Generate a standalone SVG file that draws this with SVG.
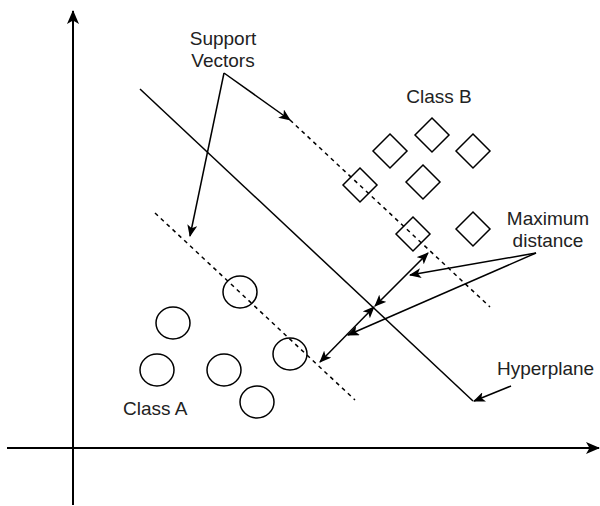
<svg xmlns="http://www.w3.org/2000/svg" width="600" height="506" viewBox="0 0 600 506">
<style>
.ln{stroke:#000;stroke-width:1.5;fill:none}
.ax{stroke:#000;stroke-width:2;fill:none}
.dash{stroke:#000;stroke-width:1.5;fill:none;stroke-dasharray:4 4}
.sv{fill:none;stroke:#000;stroke-width:1.5}
text{font-family:"Liberation Sans",Arial,sans-serif;font-size:19px;fill:#222}
</style>
<defs>
<marker id="ah" viewBox="0 0 12 10" refX="11" refY="5" markerWidth="12" markerHeight="10" markerUnits="userSpaceOnUse" orient="auto-start-reverse">
<path d="M0,0 L12,5 L0,10 L3,5 z" fill="#000"/>
</marker>
<marker id="ahb" viewBox="0 0 14 12" refX="13" refY="6" markerWidth="14" markerHeight="12" markerUnits="userSpaceOnUse" orient="auto">
<path d="M0,0 L14,6 L0,12 L3.5,6 z" fill="#000"/>
</marker>
</defs>
<g id="axes">
<line class="ax" x1="73" y1="505" x2="73" y2="11" marker-end="url(#ahb)"/>
<line class="ax" x1="7" y1="448" x2="599" y2="448" marker-end="url(#ahb)"/>
</g>
<g id="hyperplane"><line class="ln" x1="140" y1="89" x2="473" y2="401"/></g>
<g id="margin-b"><line class="dash" x1="290" y1="120" x2="490" y2="307"/></g>
<g id="margin-a"><line class="dash" x1="155" y1="213" x2="355" y2="400"/></g>
<g id="class-b">
<path class="sv" d="M390,134 L407,151 L390,168 L373,151 Z"/>
<path class="sv" d="M432,118 L449,135 L432,152 L415,135 Z"/>
<path class="sv" d="M473,134 L490,151 L473,168 L456,151 Z"/>
<path class="sv" d="M423,165 L440,182 L423,199 L406,182 Z"/>
<path class="sv" d="M360,168 L377,185 L360,202 L343,185 Z"/>
<path class="sv" d="M413,217 L430,234 L413,251 L396,234 Z"/>
<path class="sv" d="M473,212 L490,229 L473,246 L456,229 Z"/>
</g>
<g id="class-a">
<ellipse class="sv" cx="240" cy="292" rx="17" ry="16"/>
<ellipse class="sv" cx="173" cy="323" rx="17" ry="16"/>
<ellipse class="sv" cx="157" cy="370" rx="17" ry="16"/>
<ellipse class="sv" cx="224" cy="370" rx="17" ry="16"/>
<ellipse class="sv" cx="290" cy="354" rx="17" ry="16"/>
<ellipse class="sv" cx="257" cy="402" rx="17" ry="16"/>
</g>
<g id="connectors">
<line class="ln" x1="224" y1="73" x2="290" y2="120" marker-end="url(#ah)"/>
<line class="ln" x1="224" y1="73" x2="190" y2="236" marker-end="url(#ah)"/>
<line class="ln" x1="375" y1="306" x2="428" y2="253" marker-start="url(#ah)" marker-end="url(#ah)"/>
<line class="ln" x1="320" y1="362" x2="374" y2="307" marker-start="url(#ah)" marker-end="url(#ah)"/>
<line class="ln" x1="536" y1="253" x2="410" y2="275" marker-end="url(#ah)"/>
<line class="ln" x1="536" y1="253" x2="348" y2="335" marker-end="url(#ah)"/>
<line class="ln" x1="511" y1="386" x2="474" y2="401" marker-end="url(#ah)"/>
</g>
<g id="labels">
<text x="223" y="45" text-anchor="middle">Support</text>
<text x="223" y="67" text-anchor="middle">Vectors</text>
<text x="439" y="103" text-anchor="middle">Class B</text>
<text x="548" y="225" text-anchor="middle">Maximum</text>
<text x="548" y="247" text-anchor="middle">distance</text>
<text x="497" y="375">Hyperplane</text>
<text x="123" y="415">Class A</text>
</g>
</svg>
